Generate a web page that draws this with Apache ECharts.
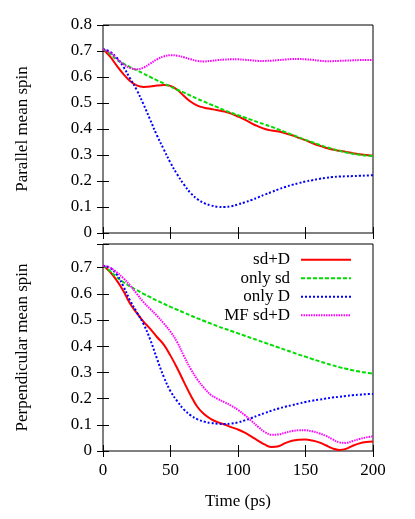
<!DOCTYPE html>
<html>
<head>
<meta charset="utf-8">
<script src="https://cdn.jsdelivr.net/npm/echarts@6/dist/echarts.min.js"></script>
<style>
  html, body { margin: 0; padding: 0; background: #fff; }
  #main { width: 415px; height: 519px; }
</style>
</head>
<body>
<div id="main"></div>
<script>
// time axis (ps)
const time = [0, 5, 10, 15, 20, 25, 30, 35, 40, 45, 50, 55, 60, 65, 70, 75, 80, 85, 90, 95,
  100, 105, 110, 115, 120, 125, 130, 135, 140, 145, 150, 155, 160, 165, 170, 175, 180, 185, 190, 195, 200];
const seriesNames = ["sd+D", "only sd", "only D", "MF sd+D"];

// parallel mean spin
const parSdD = [0.707, 0.680, 0.645, 0.612, 0.585, 0.568, 0.562, 0.563, 0.567, 0.569,
  0.566, 0.551, 0.527, 0.505, 0.490, 0.482, 0.477, 0.472, 0.467, 0.459,
  0.448, 0.436, 0.422, 0.410, 0.400, 0.394, 0.390, 0.384, 0.376, 0.366,
  0.357, 0.346, 0.336, 0.328, 0.321, 0.316, 0.312, 0.307, 0.303, 0.300, 0.297];
const parSd = [0.707, 0.690, 0.667, 0.652, 0.638, 0.626, 0.613, 0.600, 0.587, 0.575,
  0.563, 0.551, 0.540, 0.528, 0.516, 0.505, 0.494, 0.483, 0.472, 0.462,
  0.453, 0.444, 0.435, 0.426, 0.417, 0.408, 0.398, 0.388, 0.378, 0.368,
  0.358, 0.349, 0.340, 0.331, 0.323, 0.316, 0.310, 0.305, 0.301, 0.298, 0.296];
const parD = [0.707, 0.698, 0.675, 0.640, 0.595, 0.550, 0.495, 0.435, 0.375, 0.322,
  0.270, 0.225, 0.186, 0.153, 0.130, 0.115, 0.106, 0.101, 0.100, 0.103,
  0.110, 0.118, 0.127, 0.137, 0.148, 0.158, 0.168, 0.177, 0.185, 0.192,
  0.198, 0.203, 0.208, 0.212, 0.215, 0.217, 0.218, 0.219, 0.220, 0.221, 0.222];
const parMF = [0.707, 0.695, 0.672, 0.650, 0.635, 0.630, 0.636, 0.652, 0.668, 0.679,
  0.684, 0.682, 0.676, 0.668, 0.662, 0.660, 0.662, 0.665, 0.667, 0.668,
  0.668, 0.666, 0.664, 0.662, 0.662, 0.663, 0.665, 0.667, 0.669, 0.669,
  0.668, 0.666, 0.663, 0.661, 0.661, 0.662, 0.663, 0.664, 0.665, 0.665, 0.665];

// perpendicular mean spin
const perSdD = [0.707, 0.685, 0.652, 0.612, 0.563, 0.527, 0.494, 0.466, 0.435, 0.406,
  0.364, 0.316, 0.263, 0.212, 0.168, 0.140, 0.122, 0.110, 0.101, 0.091,
  0.082, 0.070, 0.055, 0.039, 0.024, 0.015, 0.018, 0.030, 0.039, 0.043,
  0.044, 0.040, 0.033, 0.022, 0.010, 0.004, 0.008, 0.020, 0.029, 0.034, 0.036];
const perSd = [0.707, 0.688, 0.664, 0.645, 0.628, 0.614, 0.600, 0.587, 0.574, 0.562,
  0.550, 0.539, 0.528, 0.517, 0.506, 0.496, 0.486, 0.476, 0.467, 0.458,
  0.449, 0.440, 0.431, 0.422, 0.413, 0.404, 0.395, 0.386, 0.377, 0.368,
  0.360, 0.351, 0.343, 0.335, 0.327, 0.320, 0.314, 0.308, 0.303, 0.299, 0.295];
const perD = [0.707, 0.700, 0.675, 0.630, 0.575, 0.530, 0.485, 0.425, 0.352, 0.283,
  0.228, 0.190, 0.158, 0.136, 0.121, 0.112, 0.107, 0.104, 0.103, 0.105,
  0.109, 0.117, 0.126, 0.136, 0.145, 0.154, 0.162, 0.169, 0.175, 0.181,
  0.187, 0.192, 0.196, 0.200, 0.204, 0.207, 0.210, 0.213, 0.215, 0.217, 0.218];
const perMF = [0.707, 0.700, 0.683, 0.660, 0.632, 0.600, 0.568, 0.542, 0.516, 0.487,
  0.455, 0.415, 0.362, 0.313, 0.272, 0.240, 0.214, 0.199, 0.186, 0.173,
  0.157, 0.137, 0.115, 0.092, 0.072, 0.062, 0.063, 0.070, 0.076, 0.079,
  0.079, 0.075, 0.068, 0.058, 0.045, 0.033, 0.031, 0.038, 0.046, 0.052, 0.056];

const FONT = '"Liberation Serif", "DejaVu Serif", serif';
const colors = ["#ff0000", "#00dd00", "#0000ff", "#ff00ff"];
const dashes = ["solid", [4, 2], [2, 2], [1.5, 1]];

let myChart = echarts.init(document.getElementById("main"));

const tick = { show: true, inside: true, length: 6, lineStyle: { color: "#000", width: 1 } };
const labelStyle = { fontFamily: FONT, fontSize: 17, color: "#000" };

function xAxisFor(grid, pos, withLabels) {
  let ax = {
    gridIndex: grid, type: "value", position: pos,
    min: 0, max: 200, interval: 50,
    axisLine: { show: false }, axisTick: tick, splitLine: { show: false },
    axisLabel: withLabels ? Object.assign({ margin: 11 }, labelStyle) : { show: false }
  };
  if (withLabels) {
    ax.name = "Time (ps)";
    ax.nameLocation = "middle";
    ax.nameGap = 42;
    ax.nameTextStyle = labelStyle;
  }
  return ax;
}

function yAxisFor(grid, pos, max, name) {
  let ax = {
    gridIndex: grid, type: "value", position: pos,
    min: 0, max: max, interval: 0.1,
    axisLine: { show: false }, axisTick: tick, splitLine: { show: false },
    axisLabel: { show: false }
  };
  if (name) {
    ax.axisLabel = Object.assign({
      margin: 11,
      formatter: v => (v > 0.75 && max < 0.8) ? "" : String(+v.toFixed(2))
    }, labelStyle);
    ax.name = name;
    ax.nameLocation = "middle";
    ax.nameGap = 72;
    ax.nameRotate = 90;
    ax.nameTextStyle = labelStyle;
  }
  return ax;
}

function makeSeries(vals, idx, grid) {
  return {
    name: seriesNames[idx],
    type: "line",
    xAxisIndex: grid * 2,
    yAxisIndex: grid * 2,
    data: time.map((t, i) => [t, vals[i]]),
    showSymbol: false,
    symbol: "none",
    smooth: 0.4,
    lineStyle: { color: colors[idx], width: 2, type: dashes[idx] },
    itemStyle: { color: colors[idx] },
    z: 2 + idx
  };
}

let option = {
  animation: false,
  grid: [
    { left: 103, top: 25, right: 42, height: 208, show: true, borderColor: "#000", borderWidth: 1, backgroundColor: "transparent" },
    { left: 103, top: 244, right: 42, height: 207, show: true, borderColor: "#000", borderWidth: 1, backgroundColor: "transparent" }
  ],
  legend: {
    data: seriesNames,
    orient: "vertical",
    right: 58,
    top: 246,
    align: "right",
    itemWidth: 50,
    itemHeight: 2,
    itemGap: 1,
    itemStyle: { opacity: 0 },
    textStyle: { fontFamily: FONT, fontSize: 17, color: "#000", lineHeight: 17.5, padding: [0, 6, 0, 0] }
  },
  xAxis: [
    xAxisFor(0, "bottom", false),
    xAxisFor(0, "top", false),
    xAxisFor(1, "bottom", true),
    xAxisFor(1, "top", false)
  ],
  yAxis: [
    yAxisFor(0, "left", 0.8, "Parallel mean spin"),
    yAxisFor(0, "right", 0.8, null),
    yAxisFor(1, "left", 0.79, "Perpendicular mean spin"),
    yAxisFor(1, "right", 0.79, null)
  ],
  series: [
    makeSeries(parSdD, 0, 0),
    makeSeries(parSd, 1, 0),
    makeSeries(parD, 2, 0),
    makeSeries(parMF, 3, 0),
    makeSeries(perSdD, 0, 1),
    makeSeries(perSd, 1, 1),
    makeSeries(perD, 2, 1),
    makeSeries(perMF, 3, 1)
  ]
};

myChart.setOption(option);
</script>
</body>
</html>
